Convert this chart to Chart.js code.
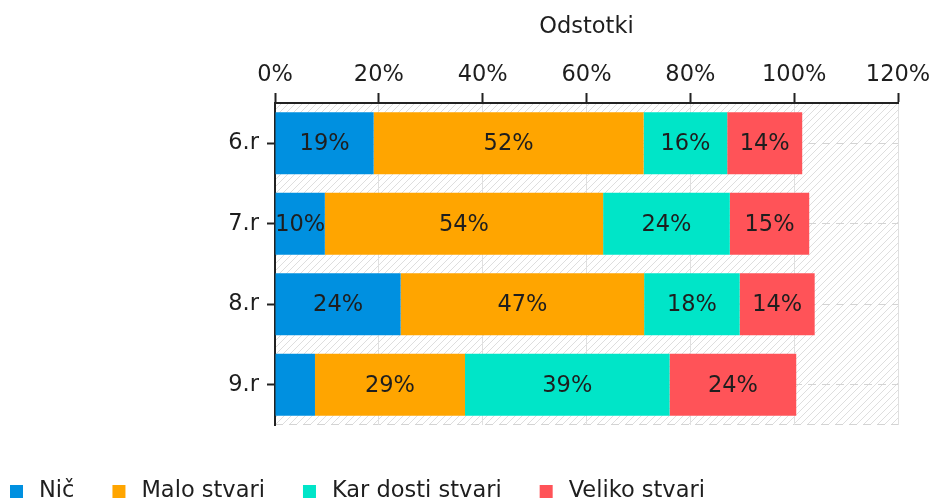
<!DOCTYPE html>
<html>
<head>
<meta charset="utf-8">
<title>Odstotki</title>
<script src="https://cdn.jsdelivr.net/npm/chart.js@4.4.1/dist/chart.umd.min.js"></script>
<style>
  html, body { margin: 0; padding: 0; background: #fff; }
  #wrap { width: 936px; height: 501px; position: relative; }
</style>
</head>
<body>
<div id="wrap"><canvas id="chart"></canvas></div>
<script>
// podatki (odstotki po razredih)
const categories = ['6.r', '7.r', '8.r', '9.r'];
const seriesNames = ['Nič', 'Malo stvari', 'Kar dosti stvari', 'Veliko stvari'];
const nic = [19.0, 9.6, 24.2, 7.7];
const maloStvari = [52.0, 53.6, 46.9, 28.9];
const karDostiStvari = [16.1, 24.4, 18.4, 39.4];
const velikoStvari = [14.45, 15.3, 14.45, 24.4];
const seriesColors = ['#0090E0', '#FFA500', '#00E5C8', '#FF5358'];
const xTickStep = 20;
const xMax = 120;

const FONT = 'DejaVu Sans';
const FONT_SIZE = 22.5;
const TEXT = '#1e1e1e';

// šrafirano ozadje
function makeHatch() {
  const c = document.createElement('canvas');
  c.width = 7;
  c.height = 7;
  const g = c.getContext('2d');
  g.strokeStyle = '#dedede';
  g.lineWidth = 1;
  g.beginPath();
  g.moveTo(0, 7); g.lineTo(7, 0);
  g.moveTo(-1, 1); g.lineTo(1, -1);
  g.moveTo(6, 8); g.lineTo(8, 6);
  g.stroke();
  return g.createPattern(c, 'repeat');
}

const backgroundPlugin = {
  id: 'hatchBackground',
  beforeDraw(chart) {
    const { ctx, chartArea: a } = chart;
    ctx.save();
    ctx.fillStyle = makeHatch();
    ctx.fillRect(a.left, a.top, a.right - a.left, a.bottom - a.top);
    // spodnja črtkana črta
    ctx.strokeStyle = '#d4d4d4';
    ctx.lineWidth = 1;
    ctx.setLineDash([8, 6]);
    ctx.beginPath();
    ctx.moveTo(a.left, a.bottom - 0.5);
    ctx.lineTo(a.right, a.bottom - 0.5);
    ctx.stroke();
    ctx.restore();
  }
};

// oznake vrednosti na stolpcih
const valueLabelsPlugin = {
  id: 'valueLabels',
  afterDatasetsDraw(chart) {
    const ctx = chart.ctx;
    ctx.save();
    ctx.font = FONT_SIZE + 'px "' + FONT + '"';
    ctx.fillStyle = TEXT;
    ctx.textAlign = 'center';
    ctx.textBaseline = 'middle';
    chart.data.datasets.forEach((ds, di) => {
      const meta = chart.getDatasetMeta(di);
      meta.data.forEach((bar, i) => {
        const v = ds.data[i];
        if (v < 9) return; // premajhen segment
        ctx.fillText(Math.round(v) + '%', (bar.x + bar.base) / 2, bar.y + 1);
      });
    });
    ctx.restore();
  }
};

// legenda spodaj levo
const legendPlugin = {
  id: 'bottomLegend',
  afterDraw(chart) {
    const ctx = chart.ctx;
    ctx.save();
    ctx.font = FONT_SIZE + 'px "' + FONT + '"';
    ctx.textBaseline = 'middle';
    let x = 10;
    const y = 491;
    chart.data.datasets.forEach(ds => {
      ctx.fillStyle = ds.backgroundColor;
      ctx.fillRect(x, y - 6, 13, 13);
      ctx.fillStyle = TEXT;
      ctx.fillText(ds.label, x + 29, y);
      x += 29 + ctx.measureText(ds.label).width + 38;
    });
    ctx.restore();
  }
};

const seriesData = [nic, maloStvari, karDostiStvari, velikoStvari];

new Chart(document.getElementById('chart').getContext('2d'), {
  type: 'bar',
  data: {
    labels: categories,
    datasets: seriesNames.map((name, i) => ({
      label: name,
      data: seriesData[i],
      backgroundColor: seriesColors[i],
      borderWidth: 0,
      barPercentage: 0.77,
      categoryPercentage: 1
    }))
  },
  options: {
    indexAxis: 'y',
    responsive: true,
    maintainAspectRatio: false,
    animation: false,
    layout: { padding: { left: 0, right: 38, top: 0, bottom: 76 } },
    plugins: {
      legend: { display: false },
      tooltip: { enabled: false }
    },
    scales: {
      x: {
        position: 'top',
        stacked: true,
        min: 0,
        max: xMax,
        ticks: {
          stepSize: xTickStep,
          callback: v => v + '%',
          color: TEXT,
          font: { family: FONT, size: FONT_SIZE },
          padding: 4,
          maxRotation: 0
        },
        grid: { color: '#e0e0e0', tickColor: '#222', tickLength: 10, tickWidth: 2 },
        border: { color: '#222', width: 2 },
        title: {
          display: true,
          text: 'Odstotki',
          color: TEXT,
          font: { family: FONT, size: FONT_SIZE },
          padding: { top: 14, bottom: 0 }
        },
        afterFit: s => { s.height = 103; }
      },
      y: {
        stacked: true,
        ticks: { color: TEXT, font: { family: FONT, size: FONT_SIZE }, padding: 8 },
        grid: { offset: false, color: '#d4d4d4', tickColor: '#222', tickLength: 8, tickWidth: 2 },
        border: { color: '#222', width: 2, dash: [8, 6] },
        afterFit: s => { s.width = 275; }
      }
    }
  },
  plugins: [backgroundPlugin, valueLabelsPlugin, legendPlugin]
});
</script>
</body>
</html>
